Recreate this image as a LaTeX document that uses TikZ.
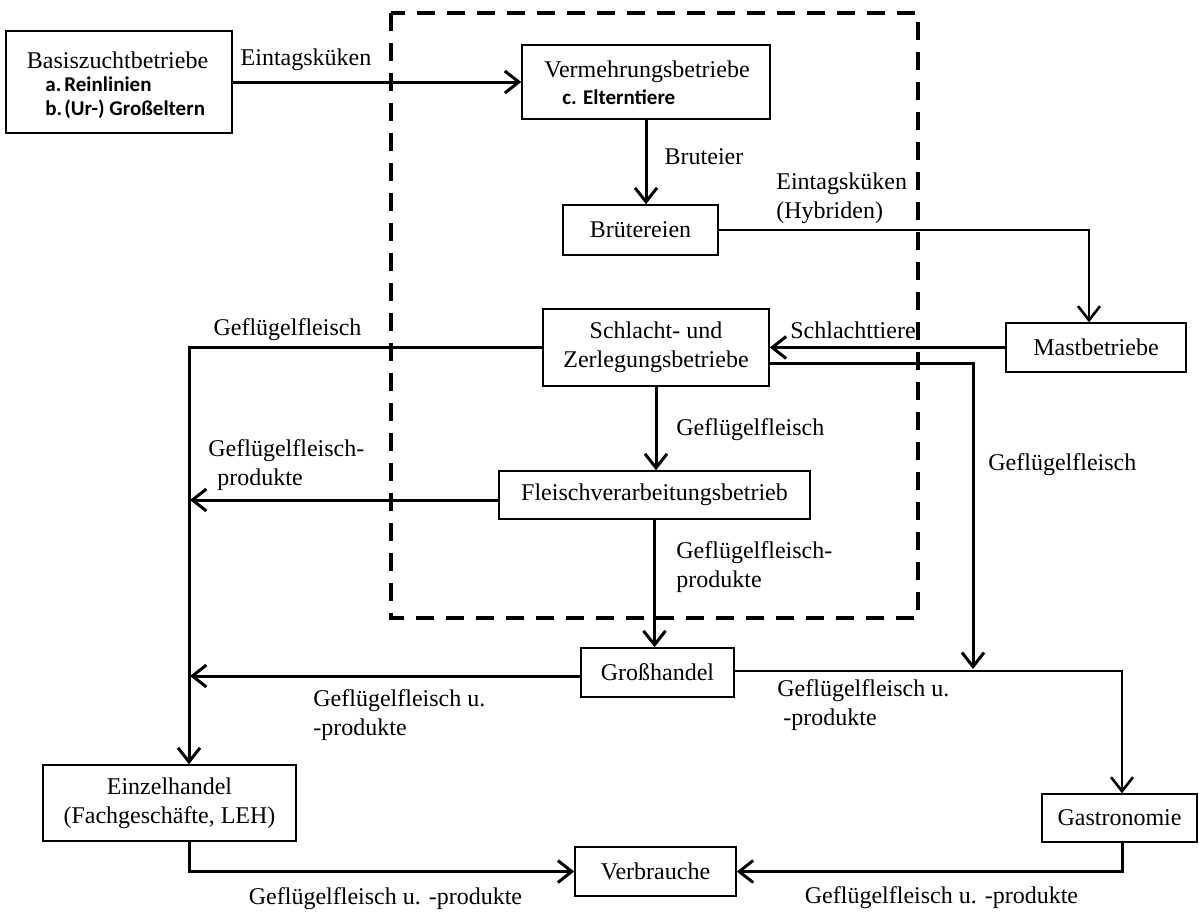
\documentclass[tikz,border=0pt]{standalone}
\usepackage{fontspec}
\setmainfont{Liberation Serif}
\newfontfamily\calib{Carlito}
\usetikzlibrary{arrows.meta,calc}
\begin{document}
\begin{tikzpicture}[x=0.5pt,y=-0.5pt,
  font=\fontsize{12}{14.5}\selectfont,
  box/.style={draw,line width=0.75pt,inner sep=0pt,align=center},
  lbl/.style={inner sep=0pt,align=left},
  bl/.style={inner sep=0pt,anchor=west,font=\calib\bfseries\fontsize{10.5}{12}\selectfont},
  conn/.style={line width=1.5pt,-{Straight Barb[length=7pt,width=11pt,line width=1.5pt]}},
  thinconn/.style={line width=1.1pt,-{Straight Barb[length=7pt,width=11pt,line width=1.3pt]}},
  dashbox/.style={line width=2pt,dash pattern=on 9pt off 6pt}
]
\useasboundingbox (0,0) rectangle (1199,911);

% dashed frame
\draw[dashbox] (391,13) rectangle (918,618);

% boxes
\node[box,minimum width=113pt,minimum height=51pt] (basis) at (119,82) {};
\node[inner sep=0pt] (basisT) at (117.5,60) {Basiszuchtbetriebe};
\node[bl] (basisA) at (45,84) {\makebox[9.5pt][l]{a.}Reinlinien};
\node[bl] (basisB) at (45,109) {\makebox[9.5pt][l]{b.}(Ur-) Großeltern};

\node[box,minimum width=124pt,minimum height=37pt] (verm) at (646,82) {};
\node[inner sep=0pt] (vermT) at (647,72) {Vermehrungsbetriebe};
\node[bl] (vermC) at (562,97) {c. Elterntiere};

\node[box,minimum width=77.5pt,minimum height=25pt] (brut) at (640.5,230) {Brütereien};
\node[box,minimum width=90pt,minimum height=24.5pt] (mast) at (1096,347.5) {Mastbetriebe};
\node[box,minimum width=113pt,minimum height=38.5pt] (schl) at (656,347.5) {Schlacht- und\\Zerlegungsbetriebe};
\node[box,minimum width=155.5pt,minimum height=24pt] (fleisch) at (654.5,495) {Fleischverarbeitungsbetrieb};
\node[box,minimum width=76.5pt,minimum height=24.5pt] (gross) at (657.5,672.5) {Großhandel};
\node[box,minimum width=126.5pt,minimum height=38pt] (einzel) at (169.5,803) {Einzelhandel\\(Fachgeschäfte, LEH)};
\node[box,minimum width=80.5pt,minimum height=24.5pt] (verb) at (655.5,871.5) {Verbrauche};
\node[box,minimum width=77.5pt,minimum height=24pt] (gastro) at (1119.5,818) {Gastronomie};

% helper coordinates
\coordinate (vx) at (190,0);
\coordinate (gfx) at (973,669);

% connectors
\draw[conn] (basis.east) -- (verm.west);
\node[lbl] (l1) at (306,60) {Eintagsküken};

\draw[conn] (verm.south) -- (verm.south |- brut.north);
\node[lbl] (l2) at (704,157) {Bruteier};

\draw[thinconn] (brut.east) -| ([xshift=-3.5pt]mast.north);
\node[lbl,anchor=west] (l3) at (776,198.5) {Eintagsküken\\(Hybriden)};

\draw[conn] (mast.west) -- (schl.east);
\node[lbl] (l4) at (853,330) {Schlachttiere};

\draw[conn] ([yshift=-7.75pt]schl.east) -| (gfx);
\node[lbl,anchor=west] (l5) at (988,465) {Geflügelfleisch};

\draw[conn] (schl.west) -| ([xshift=9.75pt]einzel.north);
\node[lbl] (l6) at (287.5,330) {Geflügelfleisch};

\draw[conn] (schl.south) -- (schl.south |- fleisch.north);
\node[lbl,anchor=west] (l7) at (676,430) {Geflügelfleisch};

\draw[conn] ([yshift=-2.5pt]fleisch.west) -- ([yshift=-2.5pt]fleisch.west -| vx);
\node[lbl,anchor=west] (l8) at (208,465) {Geflügelfleisch-\\\hspace*{4.5pt}produkte};

\draw[conn] (fleisch.south) -- (fleisch.south |- gross.north);
\node[lbl,anchor=west] (l9) at (676,567.5) {Geflügelfleisch-\\produkte};

\draw[conn] ([yshift=-1.75pt]gross.west) -- ([yshift=-1.75pt]gross.west -| vx);
\node[lbl,anchor=west] (l10) at (313,715) {Geflügelfleisch u.\\-produkte};

\draw[thinconn] ([yshift=0.75pt]gross.east) -| ([xshift=1.25pt]gastro.north);
\node[lbl,anchor=west] (l11) at (777,705.5) {Geflügelfleisch u.\\\hspace*{3pt}-produkte};

\draw[conn] ([xshift=9.75pt]einzel.south) |- (verb.west);
\node[lbl] (l12) at (385.5,899) {Geflügelfleisch u. -produkte};

\draw[conn] ([xshift=1.25pt]gastro.south) |- (verb.east);
\node[lbl] (l13) at (941.5,898) {Geflügelfleisch u. -produkte};
\end{tikzpicture}
\end{document}
